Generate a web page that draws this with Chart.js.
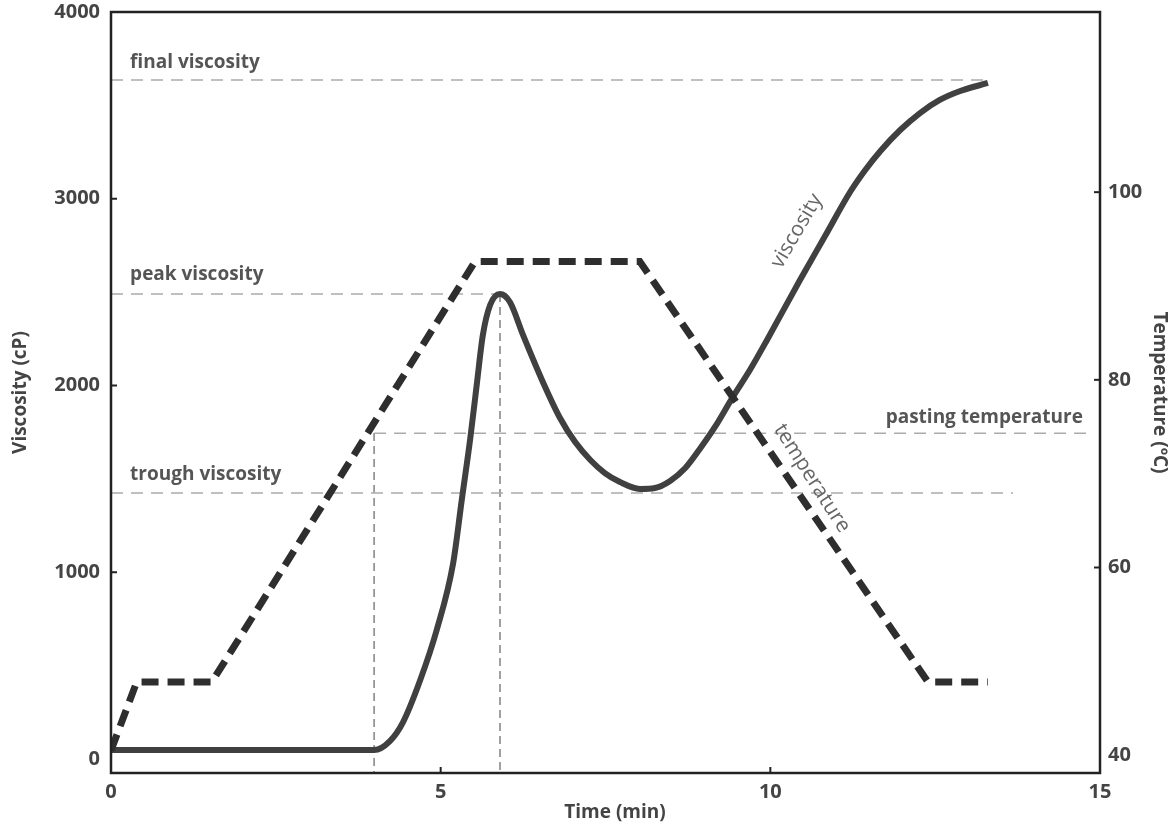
<!DOCTYPE html>
<html>
<head>
<meta charset="utf-8">
<title>Viscosity profile</title>
<script src="https://cdn.jsdelivr.net/npm/chart.js@4.4.1/dist/chart.umd.min.js"></script>
<style>
  html, body { margin: 0; padding: 0; background: #fff; }
  canvas { display: block; }
</style>
</head>
<body>
<canvas id="myChart" width="1173" height="828"></canvas>
<script>
// viscosity curve (time in min, viscosity in cP)
var timeVisc = [0, 2.0, 3.99, 4.23, 4.43, 4.69, 4.94, 5.19, 5.32, 5.45,
    5.55, 5.64, 5.75, 5.90, 6.05, 6.25, 6.55, 6.81, 7.04, 7.27,
    7.49, 7.72, 8.02, 8.25, 8.48, 8.71, 8.93, 9.16, 9.43, 9.69,
    9.95, 10.45, 10.83, 11.21, 11.44, 11.67, 11.97, 12.27, 12.57, 12.88, 13.30];
var viscosity = [48, 48, 48, 96, 198, 423, 691, 1050, 1387, 1719,
    2013, 2270, 2431, 2490, 2447, 2270, 2019, 1826, 1697, 1601,
    1531, 1483, 1446, 1451, 1489, 1558, 1660, 1778, 1938, 2083,
    2244, 2565, 2800, 3036, 3154, 3256, 3368, 3459, 3529, 3577, 3620];

// temperature profile (time in min, temperature in ºC)
var timeTemp = [0, 0.39, 1.53, 5.52, 8.02, 12.39, 13.30];
var temperature = [40.5, 47.8, 47.8, 92.6, 92.6, 47.8, 47.8];

// reference levels
var finalVisc = 3636, peakVisc = 2490, troughVisc = 1424;
var pastingTemp = 74.3, pastingTime = 3.99, peakTime = 5.90;
var finalEnd = 13.30, troughEnd = 13.68, pastingEnd = 14.88;

// tick labels
var timeTicks = [0, 5, 10, 15];
var viscTicks = [0, 1000, 2000, 3000, 4000];
var tempTicks = [40, 60, 80, 100];

function pts(xs, ys) {
    return xs.map(function(x, i) { return { x: x, y: ys[i] }; });
}

var refStyle = {
    borderColor: '#ababab', borderWidth: 1.6, borderDash: [12, 8],
    pointRadius: 0, fill: false, tension: 0
};
var vertStyle = {
    borderColor: '#555', borderWidth: 1.1, borderDash: [8, 5],
    pointRadius: 0, fill: false, tension: 0
};

var textFont = '"Open Sans", "DejaVu Sans", sans-serif';
var tickFont = { family: textFont, size: 20, weight: 'bold' };

function noPad(s) {
    s.paddingTop = 0; s.paddingBottom = 0;
    s.paddingLeft = 0; s.paddingRight = 0;
}

var annotations = {
    id: 'annotations',
    afterDraw: function(chart) {
        var c = chart.ctx, a = chart.chartArea;
        var x = chart.scales.x, y = chart.scales.y, y2 = chart.scales.y2;
        c.save();

        // inward tick marks
        c.strokeStyle = '#222';
        c.lineWidth = 2;
        [1000, 2000, 3000].forEach(function(v) {
            var p = y.getPixelForValue(v);
            c.beginPath(); c.moveTo(a.left, p); c.lineTo(a.left + 6, p); c.stroke();
        });
        [60, 80, 100].forEach(function(v) {
            var p = y2.getPixelForValue(v);
            c.beginPath(); c.moveTo(a.right, p); c.lineTo(a.right - 6, p); c.stroke();
        });
        [5, 10].forEach(function(v) {
            var p = x.getPixelForValue(v);
            c.beginPath(); c.moveTo(p, a.bottom); c.lineTo(p, a.bottom - 6); c.stroke();
        });

        // frame
        c.lineWidth = 2.5;
        c.strokeRect(a.left, a.top, a.right - a.left, a.bottom - a.top);

        // reference line labels
        c.fillStyle = '#555';
        c.font = 'bold 19px ' + textFont;
        c.textBaseline = 'middle';
        c.textAlign = 'left';
        var lx = x.getPixelForValue(0.29);
        c.fillText('final viscosity', lx, y.getPixelForValue(finalVisc) - 17);
        c.fillText('peak viscosity', lx, y.getPixelForValue(peakVisc) - 19);
        c.fillText('trough viscosity', lx, y.getPixelForValue(troughVisc) - 18);
        c.textAlign = 'right';
        c.fillText('pasting temperature', x.getPixelForValue(14.74), y2.getPixelForValue(pastingTemp) - 16);

        // curve labels
        c.fillStyle = '#666';
        c.font = '21px ' + textFont;
        c.textAlign = 'center';
        c.save();
        c.translate(x.getPixelForValue(10.40), y.getPixelForValue(2827));
        c.rotate(-59.7 * Math.PI / 180);
        c.fillText('viscosity', 0, 0);
        c.restore();
        c.save();
        c.translate(x.getPixelForValue(10.63), y2.getPixelForValue(69.5));
        c.rotate(57.5 * Math.PI / 180);
        c.fillText('temperature', 0, 0);
        c.restore();

        // x axis title
        c.fillStyle = '#444';
        c.font = 'bold 19px ' + textFont;
        c.fillText('Time (min)', 615, 813);
        c.restore();
    }
};

var ctx = document.getElementById('myChart').getContext('2d');

var myChart = new Chart(ctx, {
    type: 'line',
    data: {
        datasets: [
            {
                label: 'temperature',
                data: pts(timeTemp, temperature),
                yAxisID: 'y2',
                borderColor: '#2e2e2e',
                borderWidth: 7,
                borderDash: [17, 9],
                pointRadius: 0,
                tension: 0,
                fill: false
            },
            {
                label: 'viscosity',
                data: pts(timeVisc, viscosity),
                yAxisID: 'y',
                borderColor: '#404040',
                borderWidth: 6,
                pointRadius: 0,
                cubicInterpolationMode: 'monotone',
                fill: false
            },
            Object.assign({ data: pts([0, finalEnd], [finalVisc, finalVisc]), yAxisID: 'y' }, refStyle),
            Object.assign({ data: pts([0, peakTime], [peakVisc, peakVisc]), yAxisID: 'y' }, refStyle),
            Object.assign({ data: pts([0, troughEnd], [troughVisc, troughVisc]), yAxisID: 'y' }, refStyle),
            Object.assign({ data: pts([pastingTime, pastingEnd], [pastingTemp, pastingTemp]), yAxisID: 'y2' }, refStyle),
            Object.assign({ data: pts([pastingTime, pastingTime], [1746, -75]), yAxisID: 'y' }, vertStyle),
            Object.assign({ data: pts([peakTime, peakTime], [peakVisc, -75]), yAxisID: 'y' }, vertStyle)
        ]
    },
    options: {
        responsive: false,
        animation: false,
        layout: { padding: { top: 12, left: 0, right: 0, bottom: 0 } },
        plugins: {
            legend: { display: false },
            tooltip: { enabled: false }
        },
        scales: {
            x: {
                type: 'linear',
                min: 0,
                max: 15,
                afterBuildTicks: function(s) { s.ticks = timeTicks.map(function(v) { return { value: v }; }); },
                afterFit: function(s) { s.height = 55; noPad(s); },
                grid: { display: false, drawTicks: false },
                border: { display: false },
                ticks: { padding: 7, color: '#444', font: tickFont, callback: function(v) { return String(v); } }
            },
            y: {
                type: 'linear',
                position: 'left',
                min: -75,
                max: 4000,
                afterBuildTicks: function(s) { s.ticks = viscTicks.map(function(v) { return { value: v }; }); },
                afterFit: function(s) { s.width = 111; noPad(s); },
                grid: { display: false, drawTicks: false },
                border: { display: false },
                ticks: { padding: 11, color: '#444', font: tickFont, callback: function(v) { return String(v); } },
                title: {
                    display: true, text: 'Viscosity (cP)', color: '#444',
                    padding: { top: 9, bottom: 4 },
                    font: { family: textFont, size: 19, weight: 'bold' }
                }
            },
            y2: {
                type: 'linear',
                position: 'right',
                min: 38.1,
                max: 119.2,
                afterBuildTicks: function(s) { s.ticks = tempTicks.map(function(v) { return { value: v }; }); },
                afterFit: function(s) { s.width = 73; noPad(s); },
                grid: { display: false, drawTicks: false },
                border: { display: false },
                ticks: { padding: 8, color: '#444', font: tickFont, callback: function(v) { return String(v); } },
                title: {
                    display: true, text: 'Temperature (ºC)', color: '#444',
                    padding: { top: 2, bottom: 4 },
                    font: { family: textFont, size: 19, weight: 'bold' }
                }
            }
        }
    },
    plugins: [annotations]
});
</script>
</body>
</html>
